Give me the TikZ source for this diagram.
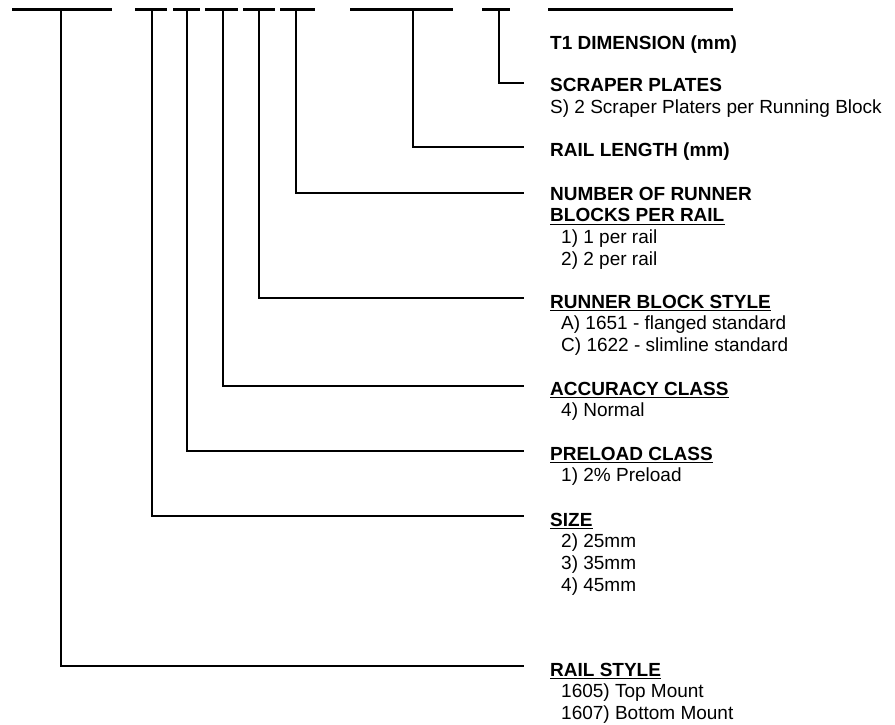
\documentclass[tikz,border=0pt]{standalone}
\usepackage{fontspec}
\setmainfont{Liberation Sans}
\begin{document}
\begin{tikzpicture}[x=1pt, y=-1pt, line join=miter,
    bar/.style={line width=3.2pt},
    lead/.style={line width=2.6pt},
    head/.style={anchor=base west, inner sep=0pt, font=\bfseries\fontsize{19}{21.7}\selectfont},
    item/.style={anchor=base west, inner sep=0pt, font=\fontsize{19}{21.7}\selectfont},
    uline/.style={line width=1.3pt}]
  \useasboundingbox (0,0) rectangle (895,725);
  % code bars along the top
  \draw[bar] (12,9.5) -- (112,9.5);
  \draw[bar] (135,9.5) -- (167,9.5);
  \draw[bar] (173,9.5) -- (200,9.5);
  \draw[bar] (205,9.5) -- (238,9.5);
  \draw[bar] (243,9.5) -- (275,9.5);
  \draw[bar] (280,9.5) -- (315,9.5);
  \draw[bar] (350,9.5) -- (453,9.5);
  \draw[bar] (482,9.5) -- (510,9.5);
  \draw[bar] (548,9.5) -- (733,9.5);
  \coordinate (tRail) at (61,9.5);
  \coordinate (tSize) at (152,9.5);
  \coordinate (tPre) at (187,9.5);
  \coordinate (tAcc) at (223,9.5);
  \coordinate (tStyle) at (259,9.5);
  \coordinate (tNum) at (296,9.5);
  \coordinate (tLen) at (413,9.5);
  \coordinate (tScr) at (499,9.5);
  % ends of the leads
  \coordinate (eScr) at (524,83);
  \coordinate (eLen) at (524,147);
  \coordinate (eNum) at (524,193);
  \coordinate (eStyle) at (524,298);
  \coordinate (eAcc) at (524,386);
  \coordinate (ePre) at (524,451);
  \coordinate (eSize) at (524,516);
  \coordinate (eRail) at (524,666);
  \draw[lead] (tScr) |- (eScr);
  \draw[lead] (tLen) |- (eLen);
  \draw[lead] (tNum) |- (eNum);
  \draw[lead] (tStyle) |- (eStyle);
  \draw[lead] (tAcc) |- (eAcc);
  \draw[lead] (tPre) |- (ePre);
  \draw[lead] (tSize) |- (eSize);
  \draw[lead] (tRail) |- (eRail);
  % legend texts
  \node[head] (hT1) at (550,50) {T1 DIMENSION (mm)};
  \node[head] (hScr) at (550,92) {SCRAPER PLATES};
  \node[item] (iScr) at (550,113.7) {S) 2 Scraper Platers per Running Block};
  \node[head] (hLen) at (550,157) {RAIL LENGTH (mm)};
  \node[head] (hNum) at (550,200) {NUMBER OF RUNNER};
  \node[head] (hNumB) at (550,221.7) {BLOCKS PER RAIL};
  \node[item] (iNum1) at (561,243.4) {1) 1 per rail};
  \node[item] (iNum2) at (561,265.1) {2) 2 per rail};
  \node[head] (hStyle) at (550,308) {RUNNER BLOCK STYLE};
  \node[item] (iStyleA) at (561,329.7) {A) 1651 - flanged standard};
  \node[item] (iStyleC) at (561,351.4) {C) 1622 - slimline standard};
  \node[head] (hAcc) at (550,395) {ACCURACY CLASS};
  \node[item] (iAcc) at (561,416.7) {4) Normal};
  \node[head] (hPre) at (550,460) {PRELOAD CLASS};
  \node[item] (iPre) at (561,481.7) {1) 2\% Preload};
  \node[head] (hSize) at (550,526) {SIZE};
  \node[item] (iSize2) at (561,547.7) {2) 25mm};
  \node[item] (iSize3) at (561,569.4) {3) 35mm};
  \node[item] (iSize4) at (561,591.1) {4) 45mm};
  \node[head] (hRail) at (550,676) {RAIL STYLE};
  \node[item] (iRail5) at (561,697.7) {1605) Top Mount};
  \node[item] (iRail7) at (561,719.4) {1607) Bottom Mount};
  % underlines
  \draw[uline] ([yshift=-2.6pt]hNumB.base west) -- ([yshift=-2.6pt]hNumB.base east);
  \draw[uline] ([yshift=-2.6pt]hStyle.base west) -- ([yshift=-2.6pt]hStyle.base east);
  \draw[uline] ([yshift=-2.6pt]hAcc.base west) -- ([yshift=-2.6pt]hAcc.base east);
  \draw[uline] ([yshift=-2.6pt]hPre.base west) -- ([yshift=-2.6pt]hPre.base east);
  \draw[uline] ([yshift=-2.6pt]hSize.base west) -- ([yshift=-2.6pt]hSize.base east);
  \draw[uline] ([yshift=-2.6pt]hRail.base west) -- ([yshift=-2.6pt]hRail.base east);
\end{tikzpicture}
\end{document}
